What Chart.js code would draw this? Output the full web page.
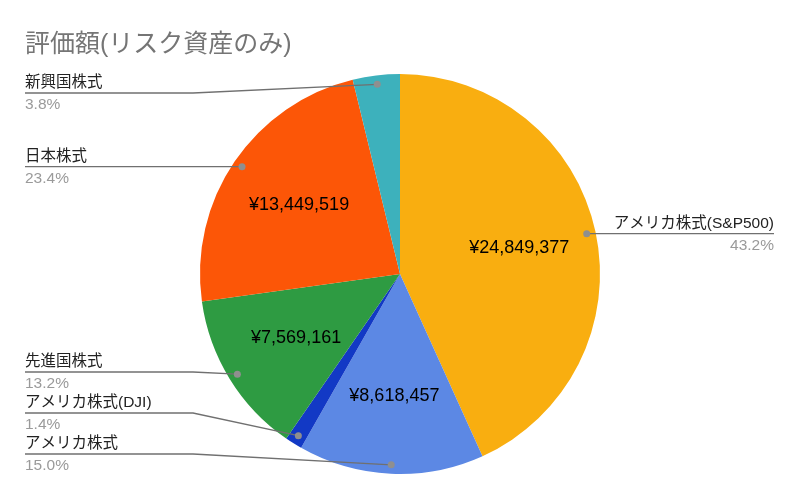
<!DOCTYPE html>
<html>
<head>
<meta charset="utf-8">
<script src="https://cdn.jsdelivr.net/npm/chart.js@4"></script>
<style>
  html, body { margin: 0; padding: 0; background: #fff; }
  #wrap { width: 800px; height: 500px; }
</style>
</head>
<body>
<div id="wrap"><canvas id="Chart" width="800" height="500"></canvas></div>
<script>
// values (starts at 12 o'clock, clockwise)
const categories = ['アメリカ株式(S&P500)', 'アメリカ株式', 'アメリカ株式(DJI)', '先進国株式', '日本株式', '新興国株式'];
const values = [24849377, 8618457, 804653, 7569161, 13449519, 2184059];
const colors = ['#F9AE10', '#5C88E4', '#1239C5', '#2E9B42', '#FC5607', '#3DB1BC'];

const FONT = "'Liberation Sans', Arial, 'Noto Sans CJK JP', sans-serif";

function spread(items, top, bottom, gap) {
    items.sort((a, b) => a.y - b.y);
    for (let i = 0; i < items.length; i++) {
        items[i].y = Math.max(items[i].y, top);
        if (i > 0) items[i].y = Math.max(items[i].y, items[i - 1].y + gap);
    }
    for (let i = items.length - 1; i >= 0; i--) {
        items[i].y = Math.min(items[i].y, bottom);
        if (i < items.length - 1) items[i].y = Math.min(items[i].y, items[i + 1].y - gap);
    }
}

const calloutPlugin = {
    id: 'callouts',
    afterDatasetsDraw(chart) {
        const ctx = chart.ctx;
        const area = chart.chartArea;
        const meta = chart.getDatasetMeta(0);
        const total = values.reduce((a, b) => a + b, 0);
        const left = [], right = [];

        ctx.save();
        meta.data.forEach((arc, i) => {
            const p = arc.getProps(['x', 'y', 'startAngle', 'endAngle', 'outerRadius'], true);
            const mid = (p.startAngle + p.endAngle) / 2;
            const r = p.outerRadius;
            const pct = values[i] / total * 100;

            // value inside the slice
            if (pct >= 10) {
                ctx.font = '18px ' + FONT;
                ctx.fillStyle = '#000';
                ctx.textAlign = 'center';
                ctx.textBaseline = 'middle';
                ctx.fillText('¥' + values[i].toLocaleString('en-US'),
                    p.x + Math.cos(mid) * r * 0.61, p.y + Math.sin(mid) * r * 0.61);
            }

            const dot = { x: p.x + Math.cos(mid) * (r - 9), y: p.y + Math.sin(mid) * (r - 9) };
            const item = { i: i, dot: dot, pct: pct, y: dot.y };
            if (Math.cos(mid) < 0) left.push(item); else right.push(item);
        });

        const top = area.top + 19, bottom = area.bottom - 20;
        spread(left, top, bottom, 41);
        spread(right, top, bottom, 41);

        const x0 = 25, x1 = chart.width - 26;
        const elbowL = 193, elbowR = chart.width - 193;

        function drawItem(it, isLeft) {
            ctx.strokeStyle = '#707070';
            ctx.lineWidth = 1.3;
            ctx.beginPath();
            if (isLeft) {
                ctx.moveTo(x0, it.y);
                ctx.lineTo(elbowL, it.y);
                ctx.lineTo(it.dot.x, it.dot.y);
            } else {
                ctx.moveTo(x1, it.y);
                ctx.lineTo(Math.max(elbowR, it.dot.x), it.y);
                ctx.lineTo(it.dot.x, it.dot.y);
            }
            ctx.stroke();

            ctx.fillStyle = '#8f8f8f';
            ctx.beginPath();
            ctx.arc(it.dot.x, it.dot.y, 3.5, 0, Math.PI * 2);
            ctx.fill();

            const tx = isLeft ? x0 : x1;
            ctx.textAlign = isLeft ? 'left' : 'right';
            ctx.font = '15.5px ' + FONT;
            ctx.fillStyle = '#222';
            ctx.textBaseline = 'alphabetic';
            ctx.fillText(categories[it.i], tx, it.y - 6);
            ctx.fillStyle = '#9a9a9a';
            ctx.textBaseline = 'middle';
            ctx.fillText(it.pct.toFixed(1) + '%', tx, it.y + 12);
        }
        left.forEach(it => drawItem(it, true));
        right.forEach(it => drawItem(it, false));
        ctx.restore();
    }
};

function main() {
    const ctx = document.getElementById('Chart');
    new Chart(ctx, {
        type: 'pie',
        data: {
            labels: categories,
            datasets: [{
                data: values,
                backgroundColor: colors,
                borderWidth: 0
            }]
        },
        options: {
            responsive: false,
            animation: false,
            layout: { padding: { left: 25, right: 25, top: 0, bottom: 26 } },
            plugins: {
                legend: { display: false },
                tooltip: { enabled: false },
                title: {
                    display: true,
                    text: '評価額(リスク資産のみ)',
                    align: 'start',
                    color: '#757575',
                    font: { family: FONT, size: 25, weight: 'normal' },
                    padding: { top: 30, bottom: 14 }
                }
            }
        },
        plugins: [calloutPlugin]
    });
}
main();
</script>
</body>
</html>
